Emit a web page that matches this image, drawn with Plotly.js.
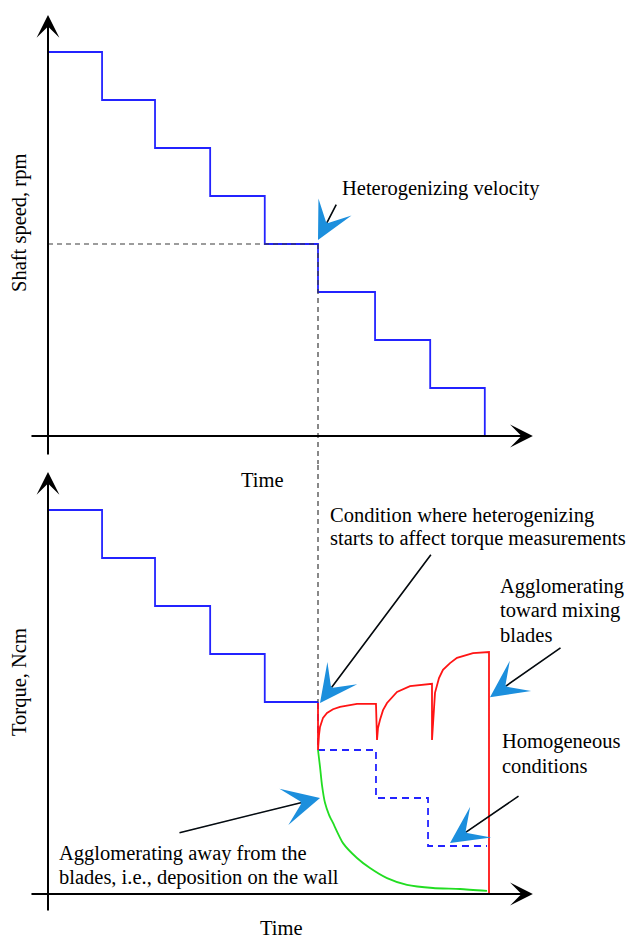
<!DOCTYPE html>
<html>
<head>
<meta charset="utf-8">
<script src="https://cdn.plot.ly/plotly-3.0.1.min.js"></script>
<style>
  html, body { margin: 0; padding: 0; background: #fff; }
  #chart { width: 631px; height: 938px; }
</style>
</head>
<body>
<div id="chart"></div>
<script>
// Shaft speed programme: speed lowered in equal steps over time
const stepTimes  = [0, 0.99, 1.96, 2.97, 3.97, 4.945, 5.99, 7.0, 8.0];
const shaftSpeed = [800, 700, 600, 500, 400, 300, 200, 100, 0];

// Heterogenizing velocity
const heteroTime  = 4.945;
const heteroSpeed = 400;
const heteroTorque = 40;

// Torque while the mix stays homogeneous (solid part)
const torqueTimes = [0, 0.99, 1.96, 2.97, 3.97, 4.945];
const torqueSteps = [80, 70, 60, 50, 40, 40];

// Torque expected under homogeneous conditions after heterogenizing (dashed)
const homoTimes  = [4.945, 4.945, 6.007, 6.96, 8.04];
const homoTorque = [40, 30, 20, 10, 10];

// Agglomerating toward the mixing blades
const towardTimes = [4.945, 4.945, 4.963, 4.982, 5.037, 5.110, 5.220, 5.348, 5.659, 6.007,
                     6.026, 6.044, 6.081, 6.136, 6.209, 6.392, 6.630, 7.033,
                     7.033, 7.051, 7.088, 7.161, 7.234, 7.363, 7.491, 7.784, 8.077, 8.077];
const towardTorque = [39.8, 30.0, 33.1, 34.8, 36.7, 37.7, 38.5, 39.0, 39.6, 39.6,
                      32.1, 34.6, 36.3, 38.3, 39.8, 42.1, 43.3, 43.8,
                      32.1, 36.3, 41.9, 45.0, 46.7, 48.1, 49.2, 50.2, 50.4, 0];

// Agglomerating away from the blades (deposition on the wall)
const awayTimes  = [4.945, 4.982, 5.018, 5.073, 5.147, 5.220, 5.403, 5.659, 5.897,
                    6.209, 6.575, 7.051, 7.546, 8.040];
const awayTorque = [30.0, 26.5, 22.7, 19.0, 16.5, 14.8, 10.6, 7.5, 5.4,
                    3.3, 1.9, 1.25, 1.04, 0.63];

const BLUE = '#2323ff', RED = '#ff1414', GREEN = '#22dd22', CALLOUT = '#1c8fdd';
const FONT = 'Liberation Serif, Times New Roman, serif';
const FSIZE = 20.5;

const traces = [
  { x: stepTimes, y: shaftSpeed, xaxis: 'x', yaxis: 'y', mode: 'lines',
    line: { color: BLUE, width: 1.8, shape: 'hv' } },
  { x: [0, heteroTime, heteroTime], y: [heteroSpeed, heteroSpeed, -200], xaxis: 'x', yaxis: 'y',
    mode: 'lines', line: { color: '#3a3a3a', width: 1.2, dash: '5px,4px' } },
  { x: torqueTimes, y: torqueSteps, xaxis: 'x', yaxis: 'y2', mode: 'lines',
    line: { color: BLUE, width: 1.8, shape: 'hv' } },
  { x: homoTimes, y: homoTorque, xaxis: 'x', yaxis: 'y2', mode: 'lines',
    line: { color: BLUE, width: 1.8, shape: 'hv', dash: '7px,5px' } },
  { x: awayTimes, y: awayTorque, xaxis: 'x', yaxis: 'y2', mode: 'lines',
    line: { color: GREEN, width: 1.8, shape: 'spline', smoothing: 0.6 } },
  { x: towardTimes, y: towardTorque, xaxis: 'x', yaxis: 'y2', mode: 'lines',
    line: { color: RED, width: 1.8 } },
  { x: [heteroTime, heteroTime], y: [200, heteroTorque], xaxis: 'x', yaxis: 'y2',
    mode: 'lines', line: { color: '#3a3a3a', width: 1.2, dash: '5px,4px' } }
];

const hiddenAxis = { showgrid: false, zeroline: false, showline: false,
                     showticklabels: false, ticks: '', fixedrange: true };

// axis line with a black arrow head
function axisArrow(yref, x0, y0, x1, y1) {
  return { xref: 'x', yref: yref, axref: 'x', ayref: yref, x: x1, y: y1, ax: x0, ay: y0,
           text: '', showarrow: true, arrowhead: 3, arrowsize: 1.9, arrowwidth: 2,
           arrowcolor: '#000' };
}

// call-out: black leader line finishing in a blue arrow head
function callout(yref, tail, tip) {
  const lead = { xref: 'x', yref: yref, axref: 'x', ayref: yref,
                 x: tip[0], y: tip[1], ax: tail[0], ay: tail[1], text: '',
                 showarrow: true, arrowhead: 0, arrowwidth: 1.6, standoff: 3,
                 arrowcolor: '#000' };
  // hair-thin shaft so only the blue head shows on top of the black line
  const head = { xref: 'x', yref: yref, axref: 'x', ayref: yref,
                 x: tip[0], y: tip[1], ax: tail[0], ay: tail[1], text: '',
                 showarrow: true, arrowhead: 3, arrowsize: 62, arrowwidth: 0.1,
                 arrowcolor: CALLOUT };
  return [lead, head];
}

function label(text, xref, yref, x, y, extra) {
  return Object.assign({ xref: xref, yref: yref, x: x, y: y, text: text, showarrow: false,
    xanchor: 'left', yanchor: 'middle', align: 'left',
    font: { family: FONT, size: FSIZE, color: '#000' } }, extra || {});
}

// multi-line block, one annotation per line for tighter leading
function block(lines, x, ys) {
  return lines.map((t, i) => label(t, 'x', 'y2', x, ys[i]));
}

const annotations = [
  axisArrow('y', 0, -41.7, 0, 877),
  axisArrow('y', -0.33, 0, 8.88, 0),
  axisArrow('y2', 0, -3.75, 0, 87.9),
  axisArrow('y2', -0.33, 0, 8.88, 0),
  ...callout('y', [5.293, 485.4], [4.945, 408.3]),
  ...callout('y2', [7.033, 71.0], [4.982, 39.8]),
  ...callout('y2', [9.414, 51.5], [8.095, 41.0]),
  ...callout('y2', [8.645, 20.6], [7.363, 10.6]),
  ...callout('y2', [2.381, 12.7], [4.982, 20.0]),
  label('Heterogenizing velocity', 'x', 'y', 5.35, 514.6),
  ...block(['Condition where heterogenizing', 'starts to affect torque measurements'], 5.128, [78.75, 73.96]),
  ...block(['Agglomerating', 'toward mixing', 'blades'], 8.24, [63.96, 58.96, 53.96]),
  ...block(['Homogeneous', 'conditions'], 8.28, [31.67, 26.67]),
  ...block(['Agglomerating away from the', 'blades, i.e., deposition on the wall'], 0.165, [8.54, 3.54]),
  label('Time', 'x', 'paper', 3.92, 0.4816, { xanchor: 'center' }),
  label('Time', 'x', 'paper', 4.27, -0.0178, { xanchor: 'center' }),
  label('Shaft speed, rpm', 'paper', 'paper', -0.0219, 0.7681, { xanchor: 'center', textangle: -90 }),
  label('Torque, Ncm', 'paper', 'paper', -0.0219, 0.2564, { xanchor: 'center', textangle: -90 })
];

const layout = {
  width: 631, height: 938,
  margin: { l: 30, r: 98, t: 15, b: 26 },
  paper_bgcolor: '#fff', plot_bgcolor: '#fff',
  showlegend: false,
  xaxis: Object.assign({ range: [-0.3297, 8.8828], domain: [0, 1], anchor: 'y2' }, hiddenAxis),
  yaxis: Object.assign({ range: [-58.33, 877.08], domain: [0.49944, 1], anchor: 'x' }, hiddenAxis),
  yaxis2: Object.assign({ range: [-3.75, 89.58], domain: [0, 0.49944], anchor: 'x' }, hiddenAxis),
  annotations: annotations,
  font: { family: FONT }
};

Plotly.newPlot('chart', traces, layout, { staticPlot: true, displayModeBar: false });
</script>
</body>
</html>
